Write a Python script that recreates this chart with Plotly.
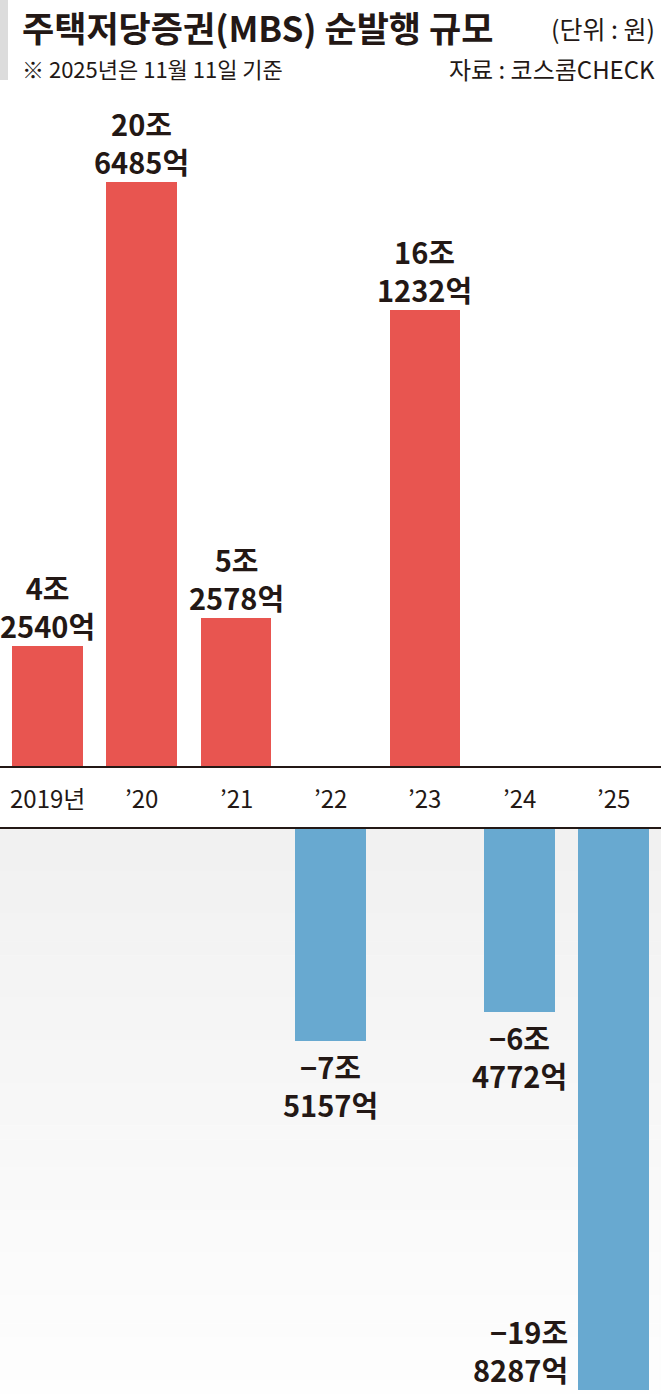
import plotly.graph_objects as go
from plotly.subplots import make_subplots

# 주택저당증권(MBS) 순발행 규모 (단위: 조원)
years = ["2019년", "’20", "’21", "’22", "’23", "’24", "’25"]
values = [4.2540, 20.6485, 5.2578, -7.5157, 16.1232, -6.4772, -19.8287]
labels = ["4조<br>2540억", "20조<br>6485억", "5조<br>2578억", "−7조<br>5157억",
          "16조<br>1232억", "−6조<br>4772억", "−19조<br>8287억"]

W, H = 661, 1394
FONT = "Noto Sans CJK KR"
INK = "#231815"
RED = "#e85550"
BLUE = "#68a9d0"

base_top = 767      # px, baseline of positive bars
base_bot = 828      # px, baseline of negative bars
top_px = 100        # px, top of upper plot area
scale = 28.33       # px per 1조


def py(p):
    return 1 - p / H


pos = [v if v > 0 else None for v in values]
neg = [v if v < 0 else None for v in values]

fig = make_subplots(rows=2, cols=1, shared_xaxes=False, vertical_spacing=0)

fig.add_trace(go.Bar(x=years, y=pos, marker_color=RED, width=0.75,
                     marker_line_width=0, hoverinfo="skip"), row=1, col=1)
fig.add_trace(go.Bar(x=years, y=neg, marker_color=BLUE, width=0.75,
                     marker_line_width=0, hoverinfo="skip"), row=2, col=1)

shapes = []
# gradient background under the lower baseline
n = 40
band = (H - base_bot) / n
for i in range(n):
    c = int(241 + (254 - 241) * i / (n - 1))
    shapes.append(dict(type="rect", xref="paper", yref="paper", x0=0, x1=1,
                       y0=py(base_bot + band * (i + 1) + 0.5), y1=py(base_bot + band * i),
                       fillcolor=f"rgb({c},{c},{c})", line_width=0, layer="below"))
# axis lines
for p in (base_top, base_bot):
    shapes.append(dict(type="line", xref="paper", yref="paper", x0=0, x1=1,
                       y0=py(p), y1=py(p), line=dict(color=INK, width=2.2)))
# grey mark beside title
shapes.append(dict(type="rect", xref="paper", yref="paper", x0=0, x1=8 / W,
                   y0=py(80), y1=1, fillcolor="#dcdcdc", line_width=0))

ann = []
ann.append(dict(x=20 / W, y=py(26), xref="paper", yref="paper", xanchor="left",
                yanchor="middle", showarrow=False,
                text="<b>주택저당증권(MBS) 순발행 규모</b>",
                font=dict(family=FONT, size=35, color=INK)))
ann.append(dict(x=657 / W, y=py(28), xref="paper", yref="paper", xanchor="right",
                yanchor="middle", showarrow=False, text="(단위 : 원)",
                font=dict(family=FONT, size=25, color=INK)))
ann.append(dict(x=20 / W, y=py(68), xref="paper", yref="paper", xanchor="left",
                yanchor="middle", showarrow=False, text="※ 2025년은 11월 11일 기준",
                font=dict(family=FONT, size=22, color=INK)))
ann.append(dict(x=657 / W, y=py(68), xref="paper", yref="paper", xanchor="right",
                yanchor="middle", showarrow=False, text="자료 : 코스콤CHECK",
                font=dict(family=FONT, size=24, color=INK)))

for yr in years:
    ann.append(dict(x=yr, y=py(797), xref="x", yref="paper", yanchor="middle",
                    showarrow=False, text=yr,
                    font=dict(family=FONT, size=24, color=INK)))

for i, (yr, v, t) in enumerate(zip(years, values, labels)):
    f = dict(family=FONT, size=29, color=INK, weight="bold")
    if v > 0:
        ann.append(dict(x=yr, y=v, xref="x", yref="y", yanchor="bottom", yshift=-2,
                        showarrow=False, text=t, font=f))
    elif i == len(values) - 1:
        ann.append(dict(x=yr, y=v, xref="x2", yref="y2", xanchor="right", align="right",
                        yanchor="bottom", xshift=-44, yshift=-2,
                        showarrow=False, text=t, font=f))
    else:
        ann.append(dict(x=yr, y=v, xref="x2", yref="y2", yanchor="top", yshift=-2,
                        showarrow=False, text=t, font=f))

fig.update_layout(
    width=W, height=H,
    margin=dict(l=0, r=0, t=0, b=0),
    paper_bgcolor="white", plot_bgcolor="rgba(0,0,0,0)",
    showlegend=False, bargap=0,
    shapes=shapes, annotations=ann,
    xaxis=dict(domain=[0, 1], range=[-0.5, 6.5], visible=False),
    xaxis2=dict(domain=[0, 1], range=[-0.5, 6.5], visible=False),
    yaxis=dict(domain=[py(base_top), py(top_px)],
               range=[0, (base_top - top_px) / scale], visible=False),
    yaxis2=dict(domain=[0, py(base_bot)],
                range=[-(H - base_bot) / scale, 0], visible=False),
)

# remove the default page margin so the figure fills the window exactly
fig.write_html("out.html", config={"displayModeBar": False},
               post_script="document.body.style.margin='0';")
